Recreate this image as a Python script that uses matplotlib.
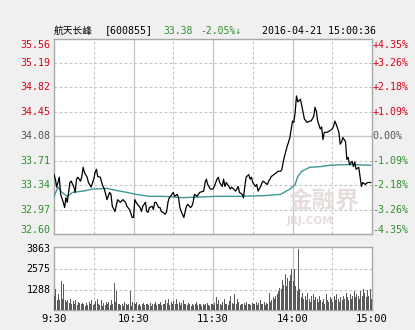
import matplotlib
matplotlib.use("Agg")
import matplotlib.pyplot as plt
from matplotlib.transforms import blended_transform_factory

# ---------------- data ----------------
stock_name = "航天长峰"
stock_code = "[600855]"
last_price = "33.38"
change_pct = "-2.05%↓"
timestamp = "2016-04-21 15:00:36"

prev_close = 34.08
price_levels = [35.56, 35.19, 34.82, 34.45, 34.08, 33.71, 33.34, 32.97, 32.60]
pct_labels = ["+4.35%", "+3.26%", "+2.18%", "+1.09%", "0.00%",
              "-1.09%", "-2.18%", "-3.26%", "-4.35%"]
vol_levels = [3863, 2575, 1288]
time_labels = ["9:30", "10:30", "11:30", "14:00", "15:00"]
time_minutes = [0, 60, 120, 180, 240]

price_min = [0, 1, 2, 4, 5, 7, 8, 9, 10, 11, 12, 13, 15, 16, 17, 18, 20, 21, 22, 23,
             25, 26, 28, 30, 31, 32, 33, 35, 36, 37, 38, 40, 42, 43, 44, 46, 48, 50, 52, 54,
             55, 57, 59, 60, 61, 62, 63, 65, 66, 67, 69, 70, 71, 72, 74, 75, 76, 77, 79, 80,
             81, 82, 84, 85, 86, 87, 89, 90, 91, 93, 94, 95, 96, 98, 99, 100, 101, 103, 104, 105,
             106, 108, 109, 110, 113, 114, 115, 116, 118, 120, 121, 123, 124, 125, 127, 128, 129, 130, 132, 133,
             134, 137, 138, 139, 140, 142, 143, 144, 145, 147, 148, 149, 150, 152, 153, 154, 156, 157, 158, 159,
             161, 162, 163, 164, 166, 168, 169, 171, 172, 173, 174, 176, 177, 178, 179, 180, 181, 182, 183, 184,
             186, 187, 188, 189, 191, 193, 194, 196, 197, 198, 199, 201, 202, 203, 204, 206, 208, 210, 211, 212,
             213, 215, 216, 217, 218, 220, 221, 222, 223, 225, 226, 227, 228, 230, 231, 232, 233, 235, 236, 237,
             239]
price_val = [33.50, 33.43, 33.31, 33.46, 33.20, 33.08, 33.00, 33.15, 33.08, 33.23, 33.38, 33.40, 33.31, 33.23, 33.43, 33.46, 33.40, 33.47, 33.61, 33.53,
             33.46, 33.38, 33.31, 33.43, 33.53, 33.58, 33.47, 33.46, 33.38, 33.32, 33.28, 33.12, 33.23, 33.20, 33.02, 32.94, 33.12, 33.08, 33.12, 33.08,
             33.02, 32.97, 32.85, 32.85, 33.12, 33.08, 33.05, 33.00, 32.94, 33.02, 33.08, 32.94, 32.93, 33.00, 33.02, 32.97, 33.08, 33.08, 33.00, 33.00,
             32.94, 32.93, 32.90, 32.94, 33.08, 33.15, 33.20, 33.23, 33.17, 33.20, 33.15, 33.00, 32.94, 32.85, 32.94, 33.02, 33.05, 33.00, 33.02, 33.08,
             33.20, 33.17, 33.20, 33.23, 33.25, 33.38, 33.43, 33.35, 33.28, 33.28, 33.32, 33.43, 33.46, 33.38, 33.32, 33.43, 33.32, 33.38, 33.32, 33.28,
             33.31, 33.25, 33.28, 33.32, 33.23, 33.20, 33.15, 33.32, 33.46, 33.50, 33.43, 33.46, 33.38, 33.32, 33.35, 33.25, 33.32, 33.38, 33.40, 33.38,
             33.35, 33.40, 33.43, 33.47, 33.50, 33.53, 33.55, 33.55, 33.58, 33.69, 33.78, 33.93, 33.99, 34.06, 34.19, 34.31, 34.29, 34.44, 34.69, 34.60,
             34.64, 34.54, 34.44, 34.34, 34.29, 34.31, 34.31, 34.38, 34.52, 34.46, 34.31, 34.19, 34.22, 34.03, 34.14, 34.14, 34.16, 34.19, 34.23, 34.31,
             34.26, 34.14, 33.96, 33.99, 34.06, 34.00, 33.73, 33.76, 33.65, 33.70, 33.62, 33.69, 33.58, 33.61, 33.47, 33.32, 33.38, 33.35, 33.37, 33.38,
             33.38]

avg_min = [0, 3, 6, 10, 14, 22, 29, 40, 47, 55, 62, 72, 83, 97, 123, 138, 158, 171, 178, 182,
           184, 187, 193, 201, 208, 218, 228, 239]
avg_val = [33.17, 33.31, 33.23, 33.17, 33.23, 33.25, 33.28, 33.29, 33.26, 33.23, 33.20, 33.17, 33.17, 33.15, 33.17, 33.17, 33.18, 33.20, 33.28, 33.35,
           33.47, 33.55, 33.61, 33.62, 33.64, 33.65, 33.65, 33.64]

volume = [900, 1300, 650, 1000, 600, 1830, 700, 1650, 650, 500,
          600, 450, 700, 350, 550, 400, 600, 300, 500, 450,
          350, 450, 400, 250, 450, 300, 500, 350, 600, 300,
          400, 550, 700, 350, 300, 600, 250, 450, 300, 500,
          350, 500, 300, 600, 400, 1720, 500, 1216, 400, 350,
          300, 400, 250, 500, 350, 300, 400, 1216, 250, 500,
          450, 350, 500, 300, 400, 250, 350, 450, 300, 400,
          350, 300, 450, 250, 400, 350, 500, 300, 400, 350,
          500, 300, 400, 350, 600, 450, 700, 300, 500, 400,
          550, 350, 700, 400, 500, 300, 450, 600, 350, 400,
          300, 450, 350, 250, 400, 300, 350, 500, 300, 400,
          350, 250, 400, 300, 350, 450, 300, 250, 400, 350,
          300, 450, 800, 350, 600, 400, 300, 500, 700, 350,
          400, 300, 550, 900, 450, 350, 1000, 400, 700, 500,
          300, 400, 350, 450, 300, 500, 350, 400, 300, 450,
          400, 350, 500, 300, 450, 600, 350, 400, 500, 300,
          450, 400, 1100, 500, 600, 800, 700, 900, 1000, 1200,
          1400, 1300, 1900, 1600, 2300, 1500, 2000, 1800, 2200, 2575,
          1800, 2600, 1500, 1200, 3863, 1300, 800, 1100, 700, 900,
          600, 1100, 700, 500, 900, 1000, 600, 800, 700, 500,
          900, 600, 500, 700, 400, 1000, 600, 500, 800, 700,
          500, 900, 600, 1000, 700, 500, 800, 600, 900, 700,
          1100, 800, 600, 1000, 700, 900, 1200, 800, 1000, 900,
          700, 1200, 900, 1300, 1100, 800, 1250, 900, 1300, 700]

# ---------------- style ----------------
W, H = 415, 330
BG = "#f1f0f0"
RED = "#d8001a"
GREEN = "#2f8f2f"
GRAY = "#555555"
GRID = "#c4c4c4"
SPINE = "#a8a8a8"
MONO = ["DejaVu Sans Mono", "DejaVu Sans"]
CJK = ["Noto Sans CJK SC", "DejaVu Sans"]

fig = plt.figure(figsize=(W / 100, H / 100), dpi=100, facecolor=BG)


def rect(l, t, r, b):
    return [l / W, 1 - b / H, (r - l) / W, (b - t) / H]


axp = fig.add_axes(rect(54, 38.5, 372, 234))
axv = fig.add_axes(rect(54, 247, 372, 310))

for ax in (axp, axv):
    ax.set_facecolor("white")
    ax.set_xlim(0, 240)
    ax.set_xticks([])
    ax.set_yticks([])
    for s in ax.spines.values():
        s.set_color(SPINE)
        s.set_linewidth(1.0)
    # vertical grid
    for m in range(30, 240, 30):
        if m % 60 == 0:
            ax.axvline(m, color=GRID, lw=0.9, zorder=0)
        else:
            ax.axvline(m, color=GRID, lw=0.8, ls=(0, (2.5, 2)), zorder=0)

axp.set_ylim(price_levels[-1], price_levels[0])
axv.set_ylim(0, vol_levels[0] * 1.03)

# horizontal grid (price)
for p in price_levels[1:-1]:
    if abs(p - prev_close) < 1e-6:
        axp.axhline(p, color=GRID, lw=1.0, zorder=0)
    else:
        axp.axhline(p, color=GRID, lw=0.8, ls=(0, (2.5, 2)), zorder=0)
for v in vol_levels[1:]:
    axv.axhline(v, color=GRID, lw=0.8, ls=(0, (2.5, 2)), zorder=0)

# watermark
axp.text(0.849, 0.17, "金融界", transform=axp.transAxes, fontsize=17, fontweight="bold",
         color="#e6dcdc", family=CJK, ha="center", va="center", zorder=1)
axp.text(0.805, 0.066, "JRJ.COM", transform=axp.transAxes, fontsize=7.5, fontweight="bold",
         color="#e6dcdc", family=["DejaVu Sans"], ha="center", va="center", zorder=1)

# lines
axp.plot(avg_min, avg_val, color="#3f9696", lw=1.0, zorder=3)
axp.plot(price_min, price_val, color="black", lw=0.9, zorder=4)

# volume bars
axv.bar([i + 0.5 for i in range(len(volume))], volume, width=0.75,
        color="#5a5a5a", zorder=3)

# left price labels / right pct labels
tl = blended_transform_factory(fig.transFigure, axp.transData)
for i, (p, pl) in enumerate(zip(price_levels, pct_labels)):
    if p > prev_close + 1e-6:
        c = RED
    elif p < prev_close - 1e-6:
        c = GREEN
    else:
        c = GRAY
    off = 0
    if i == 0:
        off = -0.1
    elif i == len(price_levels) - 1:
        off = 0.055
    axp.text(50.5 / W, p + off, f"{p:.2f}", transform=tl, ha="right", va="center",
             color=c, fontsize=7.2, family=MONO)
    axp.text(372.5 / W, p + off, pl, transform=tl, ha="left", va="center",
             color=c, fontsize=7.2, family=MONO)

tv = blended_transform_factory(fig.transFigure, axv.transData)
for v in vol_levels:
    axv.text(50.5 / W, v, str(v), transform=tv, ha="right", va="center",
             color="black", fontsize=7.2, family=MONO)

tx = blended_transform_factory(axv.transData, fig.transFigure)
for m, lab in zip(time_minutes, time_labels):
    axv.text(m, 1 - 319.5 / H, lab, transform=tx, ha="center", va="center",
             color="black", fontsize=7.6, family=MONO)

# title
ty = 1 - 30.5 / H
fig.text(54 / W, ty, stock_name, ha="left", va="center", fontsize=7.0,
         family=CJK, color="black")
fig.text(105 / W, ty, stock_code, ha="left", va="center", fontsize=7.2,
         family=MONO, color="black")
fig.text(163 / W, ty, last_price, ha="left", va="center", fontsize=7.0,
         family=MONO, color=GREEN)
fig.text(200 / W, ty, change_pct, ha="left", va="center", fontsize=7.0,
         family=MONO, color=GREEN)
fig.text(262 / W, ty, timestamp, ha="left", va="center", fontsize=7.2,
         family=MONO, color="black")

fig.savefig("out.png", dpi=100, facecolor=BG)
